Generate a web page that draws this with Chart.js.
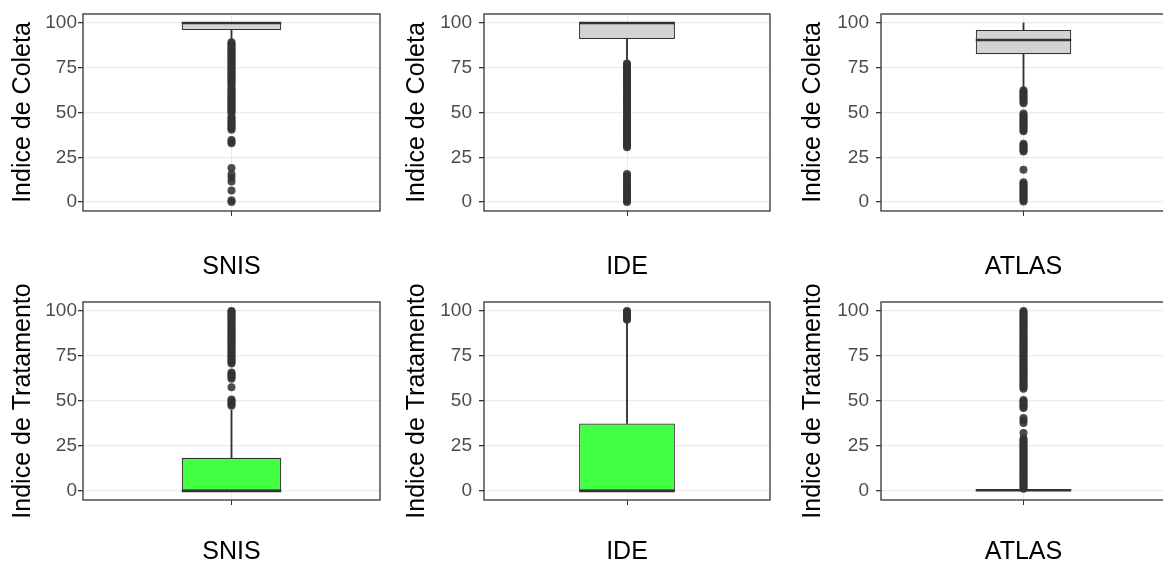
<!DOCTYPE html>
<html lang="pt">
<head>
<meta charset="UTF-8">
<title>Indices de Coleta e Tratamento</title>
<script src="https://cdn.jsdelivr.net/npm/chart.js"></script>
<style>
  html, body { margin: 0; padding: 0; background: #fff; overflow: hidden; }
  body { width: 1163px; height: 563px; position: relative; }
  canvas { position: absolute; }
</style>
</head>
<body>
<script>
  // grupos e eixos
  const grupos = ['SNIS', 'IDE', 'ATLAS'];
  const ticksPrincipais = [0, 25, 50, 75, 100];
  const ticksSecundarios = [12.5, 37.5, 62.5, 87.5];

  // Indice de Coleta (linha de cima)
  const coletaQ1 = [96, 91, 82.5];
  const coletaMediana = [100, 100, 90.5];
  const coletaQ3 = [100, 100, 96];
  const coletaBigodeMin = [90.5, 78.5, 63.5];
  const coletaBigodeMax = [100, 100, 100];
  const coletaOutSNIS = [89.2, 88.4, 87.6, 86.7, 85.9, 85.1, 84.2, 83.4, 82.5, 81.7, 80.9, 80, 79.1, 78.3,
    77.5, 76.6, 75.8, 75, 74.1, 73.3, 72.4, 71.6, 70.8, 69.9, 69.1, 68.2, 67.4, 66.5, 65.4, 64.1, 63.2,
    62.4, 61.5, 60.7, 59.8, 59, 58.1, 57.3, 56.4, 55.6, 54.7, 53.9, 53, 52.2, 51.3, 50.5, 49.6, 47.5,
    46.6, 45.7, 44.8, 43.9, 43, 42.1, 41.2, 40.4, 34.6, 33.7, 32.8, 19, 15.5, 13.5, 11.5, 6.5, 1, 0];
  const coletaOutIDE = [77.4, 76.6, 75.7, 74.9, 74, 73.2, 72.3, 71.5, 70.6, 69.8, 68.9, 68.1, 67.2, 66.4,
    65.5, 64.7, 63.8, 63, 62.1, 61.3, 60.4, 59.6, 58.7, 57.9, 57, 56.2, 55.3, 54.5, 53.6, 52.8, 51.9,
    50.6, 49.3, 48.4, 47.6, 46.7, 45.9, 45, 44.2, 43.3, 42.5, 41.6, 40.8, 39.9, 39.1, 38.2, 37.4, 36.5,
    35.7, 34.8, 34, 33.1, 32.3, 31.4, 30.6, 15.6, 14.7, 13.8, 12.6, 11.3, 10.1, 9.2, 8.4, 7.5, 6.2, 5,
    4.1, 3.3, 2.4, 1.6, 0.7, 0];
  const coletaOutATLAS = [62.4, 61.5, 60.6, 59.7, 58.8, 57.9, 57, 56.1, 55.2, 49.4, 48.5, 47.6, 46.7,
    45.8, 44.9, 44, 43.1, 42.2, 41.3, 40.4, 39.5, 32.6, 31.7, 30.8, 29.9, 29, 28.2, 18, 11, 10.1, 9.2,
    8.3, 7.4, 6.5, 5.6, 4.7, 3.8, 2.9, 2, 1.1, 0.3];

  // Indice de Tratamento (linha de baixo)
  const tratQ1 = [0, 0, 0];
  const tratMediana = [0, 0, 0.4];
  const tratQ3 = [18.5, 37.5, 0.9];
  const tratBigodeMin = [0, 0, 0];
  const tratBigodeMax = [45, 94, 0.9];
  const tratOutSNIS = [47.3, 48.2, 49.1, 50, 50.9, 57.6, 62.3, 63.2, 64.1, 65, 65.9, 70.8, 71.7, 72.6,
    73.5, 74.4, 75.3, 76.2, 77.1, 78, 78.9, 79.8, 80.7, 81.6, 82.5, 83.4, 84.3, 85.2, 86.1, 87, 87.9,
    88.8, 89.7, 90.6, 91.5, 92.4, 93.3, 94.2, 95.1, 96, 96.9, 97.8, 98.7, 99.6, 100];
  const tratOutIDE = [95.2, 95.9, 96.6, 97.3, 98, 98.7, 99.4, 100];
  const tratOutATLAS = [1.2, 2.1, 3, 3.9, 4.8, 5.7, 6.6, 7.5, 8.4, 9.3, 10.2, 11.1, 12, 12.9, 13.8,
    14.7, 15.6, 16.5, 17.4, 18.3, 19.2, 20.1, 21, 21.9, 22.8, 23.7, 24.6, 25.5, 26.4, 27.3, 28.2, 29.1,
    32.2, 37.8, 39.2, 40.6, 46.1, 47, 47.9, 48.8, 49.7, 50.6, 56.8, 57.7, 58.6, 59.5, 60.4, 61.3, 62.2,
    63.1, 64, 64.9, 65.8, 66.7, 67.6, 68.5, 69.4, 70.3, 71.2, 72.1, 73, 73.9, 74.8, 75.7, 76.6, 77.5,
    78.4, 79.3, 80.2, 81.1, 82, 82.9, 83.8, 84.7, 85.6, 86.5, 87.4, 88.3, 89.2, 90.1, 91, 91.9, 92.8,
    93.7, 94.6, 95.5, 96.4, 97.3, 98.2, 99.1, 100];

  Chart.defaults.font.family = '"Liberation Sans", Arial, sans-serif';

  // posicoes das colunas e linhas do painel
  const colunas = [
    { left: 0, eixoY: 83, titPad: 10.5, tickPad: 1, padRight: 10 },
    { left: 390, eixoY: 94, titPad: 15, tickPad: 7, padRight: 10 },
    { left: 780, eixoY: 101, titPad: 21, tickPad: 7, padRight: 1 }
  ];
  const linhas = [
    { top: 0, h: 280, padTop: 14, eixoX: 69, titPadX: 0 },
    { top: 280, h: 283, padTop: 22, eixoX: 63, titPadX: -2 }
  ];

  const moldura = {
    id: 'moldura',
    afterDraw(chart) {
      const a = chart.chartArea, ctx = chart.ctx;
      ctx.save();
      ctx.strokeStyle = '#333';
      ctx.lineWidth = 1.3;
      ctx.strokeRect(a.left, a.top, a.right - a.left, a.bottom - a.top);
      ctx.restore();
    }
  };

  const mediana = {
    id: 'mediana',
    afterDatasetsDraw(chart, args, opts) {
      const caixa = chart.getDatasetMeta(2).data[0];
      const y = chart.scales.y.getPixelForValue(opts.valor);
      const ctx = chart.ctx;
      ctx.save();
      ctx.strokeStyle = '#333';
      ctx.lineWidth = 2.6;
      ctx.beginPath();
      ctx.moveTo(caixa.x - caixa.width / 2, y);
      ctx.lineTo(caixa.x + caixa.width / 2, y);
      ctx.stroke();
      ctx.restore();
    }
  };

  function painel(linha, coluna, p) {
    const cv = document.createElement('canvas');
    cv.width = 390;
    cv.height = linha.h;
    cv.style.left = coluna.left + 'px';
    cv.style.top = linha.top + 'px';
    document.body.appendChild(cv);

    const fonteTitulo = { size: 25, lineHeight: 1 };
    new Chart(cv, {
      type: 'bar',
      data: {
        labels: [p.grupo],
        datasets: [
          { data: [[p.bMin, p.q1]], backgroundColor: '#333', barThickness: 1.2, grouped: false, order: 3 },
          { data: [[p.q3, p.bMax]], backgroundColor: '#333', barThickness: 1.2, grouped: false, order: 3 },
          {
            data: [[p.q1, p.q3]], backgroundColor: p.cor, borderColor: '#333', borderWidth: 1.2,
            borderSkipped: false, barPercentage: 0.335, categoryPercentage: 1, grouped: false, order: 2
          },
          {
            type: 'line', data: p.out.map(v => ({ x: p.grupo, y: v })), showLine: false,
            pointRadius: 4, pointBackgroundColor: 'rgba(51,51,51,0.88)', pointBorderWidth: 0, order: 1
          }
        ]
      },
      options: {
        responsive: false,
        animation: false,
        events: [],
        layout: { padding: { top: linha.padTop, right: coluna.padRight, left: 0, bottom: 0 } },
        plugins: { legend: { display: false }, tooltip: { enabled: false }, mediana: { valor: p.med } },
        scales: {
          x: {
            offset: true,
            grid: { offset: false, color: '#ebebeb', tickColor: '#333', tickLength: 5 },
            border: { display: false },
            ticks: { display: false },
            title: {
              display: true, text: p.grupo, color: '#000', font: fonteTitulo,
              padding: { top: 0, bottom: linha.titPadX }
            },
            afterFit: s => { s.height = linha.eixoX; }
          },
          y: {
            min: -5,
            max: 105,
            afterBuildTicks: s => {
              s.ticks = ticksPrincipais.concat(ticksSecundarios).sort((a, b) => a - b).map(v => ({ value: v }));
            },
            ticks: {
              color: '#4d4d4d', font: { size: 19 }, padding: coluna.tickPad,
              callback: v => ticksPrincipais.includes(v) ? String(v) : ''
            },
            grid: {
              color: c => ticksPrincipais.includes(c.tick.value) ? '#ebebeb' : '#f3f3f3',
              lineWidth: c => ticksPrincipais.includes(c.tick.value) ? 1.3 : 1,
              tickColor: c => ticksPrincipais.includes(c.tick.value) ? '#333' : 'rgba(0,0,0,0)',
              tickLength: 5
            },
            border: { display: false },
            title: {
              display: true, text: p.titulo, color: '#000', font: fonteTitulo,
              padding: { top: coluna.titPad, bottom: 0 }
            },
            afterFit: s => {
              s.width = coluna.eixoY;
              s.paddingTop = 0;
              s.paddingBottom = 0;
            }
          }
        }
      },
      plugins: [mediana, moldura]
    });
  }

  const outColeta = [coletaOutSNIS, coletaOutIDE, coletaOutATLAS];
  const outTrat = [tratOutSNIS, tratOutIDE, tratOutATLAS];

  grupos.forEach((g, i) => {
    painel(linhas[0], colunas[i], {
      grupo: g, titulo: 'Indice de Coleta', cor: '#d3d3d3',
      q1: coletaQ1[i], med: coletaMediana[i], q3: coletaQ3[i],
      bMin: coletaBigodeMin[i], bMax: coletaBigodeMax[i], out: outColeta[i]
    });
    painel(linhas[1], colunas[i], {
      grupo: g, titulo: 'Indice de Tratamento', cor: '#43ff43',
      q1: tratQ1[i], med: tratMediana[i], q3: tratQ3[i],
      bMin: tratBigodeMin[i], bMax: tratBigodeMax[i], out: outTrat[i]
    });
  });
</script>
</body>
</html>
